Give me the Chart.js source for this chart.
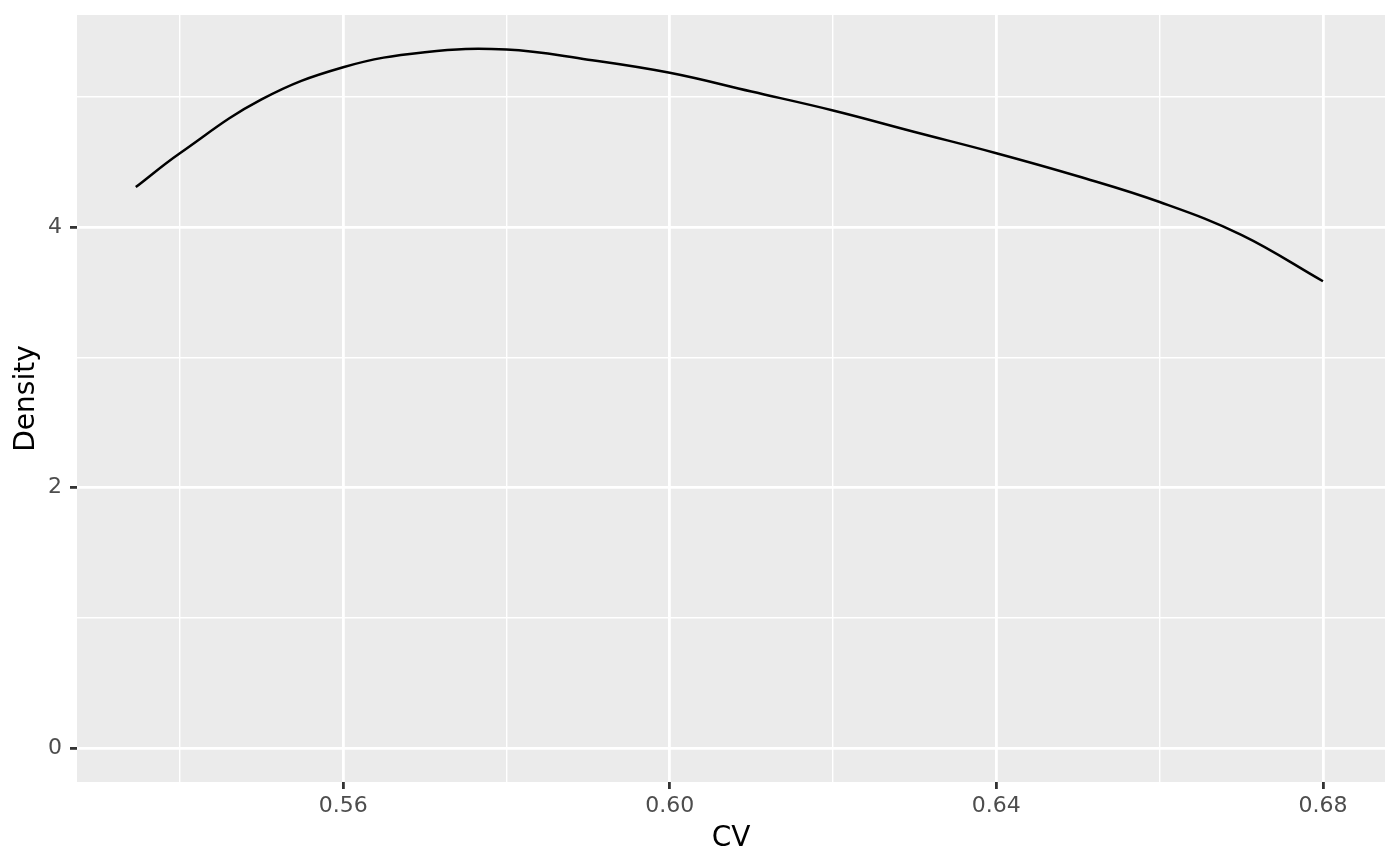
<!DOCTYPE html>
<html>
<head>
<meta charset="utf-8">
<script src="https://cdn.jsdelivr.net/npm/chart.js@4/dist/chart.umd.min.js"></script>
<style>
  html, body { margin: 0; padding: 0; background: #fff; }
  #wrap { width: 1400px; height: 866px; }
</style>
</head>
<body>
<div id="wrap"><canvas id="chart" width="1400" height="866"></canvas></div>
<script>
// density curve
const cvValues = [0.5346, 0.54, 0.55, 0.56, 0.57, 0.58, 0.59, 0.60, 0.61, 0.62, 0.63, 0.64, 0.65, 0.66, 0.67, 0.68];
const densityValues = [4.307, 4.567, 4.98, 5.227, 5.342, 5.363, 5.285, 5.184, 5.04, 4.895, 4.73, 4.567, 4.39, 4.192, 3.94, 3.584];

// axis ticks (major get labels, minor only gridlines)
const xTicks = [0.54, 0.56, 0.58, 0.60, 0.62, 0.64, 0.66, 0.68];
const xLabels = ['', '0.56', '', '0.60', '', '0.64', '', '0.68'];
const yTicks = [0, 1, 2, 3, 4, 5];
const yLabels = ['0', '', '2', '', '4', ''];

const points = cvValues.map((x, i) => ({ x: x, y: densityValues[i] }));

const panelBg = {
  id: 'panelBg',
  beforeDraw(chart) {
    const { ctx, chartArea: a } = chart;
    ctx.save();
    ctx.fillStyle = '#EBEBEB';
    ctx.fillRect(a.left, a.top, a.right - a.left, a.bottom - a.top);
    ctx.restore();
  }
};

const isMajor = (labels, ctx) => ctx.tick && labels[ctx.index] !== '';

new Chart(document.getElementById('chart'), {
  type: 'scatter',
  data: {
    datasets: [{
      data: points,
      showLine: true,
      borderColor: '#000',
      borderWidth: 2.5,
      pointRadius: 0,
      tension: 0.4,
      fill: false
    }]
  },
  plugins: [panelBg],
  options: {
    responsive: false,
    animation: false,
    layout: { padding: { top: 15, right: 15, left: 0, bottom: 0 } },
    plugins: { legend: { display: false }, tooltip: { enabled: false } },
    scales: {
      x: {
        type: 'linear',
        min: 0.5274,
        max: 0.6876,
        afterBuildTicks: s => { s.ticks = xTicks.map(v => ({ value: v })); },
        afterFit: s => { s.height = 84; s.paddingLeft = 0; s.paddingRight = 0; },
        border: { display: false },
        grid: {
          color: '#fff',
          lineWidth: c => isMajor(xLabels, c) ? 2.8 : 1.4,
          tickLength: 7,
          tickWidth: 2.8,
          tickColor: c => isMajor(xLabels, c) ? '#333333' : 'rgba(0,0,0,0)'
        },
        ticks: {
          autoSkip: false,
          maxRotation: 0,
          padding: 4,
          color: '#4D4D4D',
          font: { family: 'DejaVu Sans', size: 22 },
          callback: (v, i) => xLabels[i]
        },
        title: {
          display: true,
          text: 'CV',
          color: '#000',
          font: { family: 'DejaVu Sans', size: 28, lineHeight: 1.2 },
          padding: { top: 0, bottom: 10 }
        }
      },
      y: {
        min: -0.261,
        max: 5.628,
        afterBuildTicks: s => { s.ticks = yTicks.map(v => ({ value: v })); },
        afterFit: s => { s.width = 77; s.paddingTop = 0; s.paddingBottom = 0; },
        border: { display: false },
        grid: {
          color: '#fff',
          lineWidth: c => isMajor(yLabels, c) ? 2.8 : 1.4,
          tickLength: 7,
          tickWidth: 2.8,
          tickColor: c => isMajor(yLabels, c) ? '#333333' : 'rgba(0,0,0,0)'
        },
        ticks: {
          autoSkip: false,
          padding: 8,
          color: '#4D4D4D',
          font: { family: 'DejaVu Sans', size: 22 },
          callback: (v, i) => yLabels[i]
        },
        title: {
          display: true,
          text: 'Density',
          color: '#000',
          font: { family: 'DejaVu Sans', size: 28, lineHeight: 1.2 },
          padding: { top: 10, bottom: 0 }
        }
      }
    }
  }
});
</script>
</body>
</html>
